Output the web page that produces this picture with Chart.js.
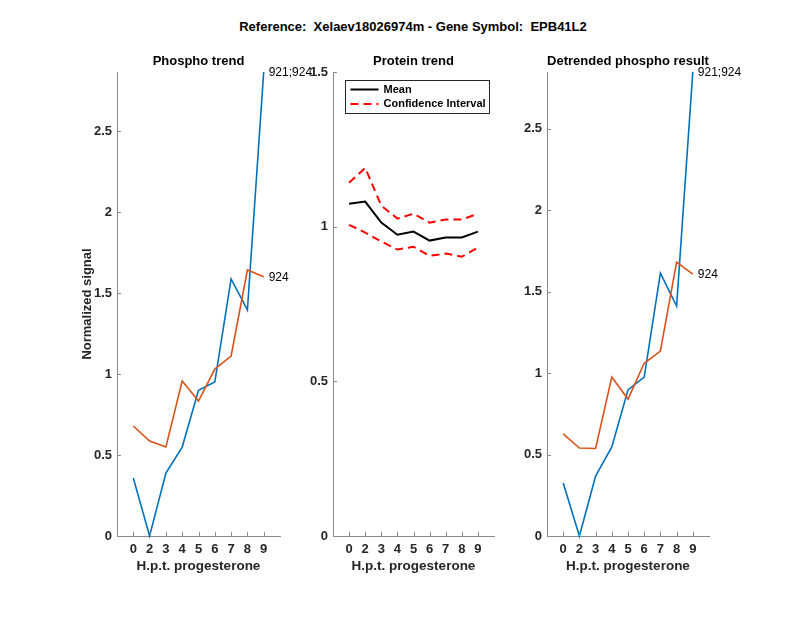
<!DOCTYPE html>
<html>
<head>
<meta charset="utf-8">
<script src="https://cdn.jsdelivr.net/npm/chart.js@4.4.1/dist/chart.umd.min.js"></script>
<style>
  body { margin:0; background:#fff; }
  #wrap { position:relative; width:800px; height:618px; overflow:hidden; }
  #wrap canvas { position:absolute; }
  #mainTitle { position:absolute; left:163px; top:19px; width:500px; text-align:center;
    font:bold 13px "Liberation Sans", Arial, sans-serif; line-height:16px; white-space:pre; color:#000; }
</style>
</head>
<body>
<div id="wrap">
  <div id="mainTitle">Reference:  Xelaev18026974m - Gene Symbol:  EPB41L2</div>
  <canvas id="c1" width="290" height="550" style="left:40px;top:40px"></canvas>
  <canvas id="c2" width="220" height="550" style="left:300px;top:40px"></canvas>
  <canvas id="c3" width="260" height="550" style="left:510px;top:40px"></canvas>
</div>
<script>
// time points (hours post progesterone)
const timeLabels = ['0','2','3','4','5','6','7','8','9'];
const seriesNames = ['921;924','924'];

// Phospho trend
const phosphoBlue   = [0.358, 0.0, 0.389, 0.549, 0.900, 0.950, 1.587, 1.395, 2.864];
const phosphoOrange = [0.679, 0.586, 0.549, 0.957, 0.833, 1.030, 1.111, 1.642, 1.600];

// Protein trend
const proteinMean  = [1.074, 1.081, 1.013, 0.974, 0.984, 0.955, 0.965, 0.965, 0.984];
const proteinUpper = [1.142, 1.190, 1.068, 1.026, 1.042, 1.013, 1.023, 1.023, 1.042];
const proteinLower = [1.006, 0.981, 0.952, 0.926, 0.935, 0.906, 0.913, 0.903, 0.932];

// Detrended phospho result
const detrendBlue   = [0.325, 0.0, 0.368, 0.546, 0.896, 0.975, 1.613, 1.411, 2.847];
const detrendOrange = [0.626, 0.540, 0.537, 0.975, 0.840, 1.060, 1.135, 1.680, 1.607];

const BLUE = '#0072BD', ORANGE = '#D95319';
const axisColor = '#8a8a8a';
const FONT = '"Liberation Sans", Arial, sans-serif';

function pts(arr){
  return arr.map((v,i) => ({x: i+1, y: v}));
}

const panelText = {
  id: 'panelText',
  afterDraw(chart, args, opts){
    const {ctx, chartArea: a, scales} = chart;
    ctx.save();
    // inward tick marks, MATLAB style
    ctx.strokeStyle = axisColor;
    ctx.lineWidth = 1;
    scales.x.ticks.forEach(t => {
      let px = Math.round(scales.x.getPixelForValue(t.value)) + 0.5;
      ctx.beginPath(); ctx.moveTo(px, a.bottom); ctx.lineTo(px, a.bottom - 4); ctx.stroke();
    });
    scales.y.ticks.forEach(t => {
      let py = Math.round(scales.y.getPixelForValue(t.value)) + 0.5;
      ctx.beginPath(); ctx.moveTo(a.left, py); ctx.lineTo(a.left + 4, py); ctx.stroke();
    });

    let cx = (a.left + a.right) / 2;
    ctx.textAlign = 'center';
    ctx.textBaseline = 'middle';
    ctx.fillStyle = '#000';
    ctx.font = 'bold 13px ' + FONT;
    ctx.fillText(opts.title, cx, a.top - 11);
    ctx.fillStyle = '#262626';
    ctx.font = 'bold 13.5px ' + FONT;
    ctx.fillText('H.p.t. progesterone', cx, a.bottom + 30);
    if (opts.yTitle){
      ctx.save();
      ctx.font = 'bold 13px ' + FONT;
      ctx.translate(a.left - 30, (a.top + a.bottom) / 2);
      ctx.rotate(-Math.PI / 2);
      ctx.fillText(opts.yTitle, 0, 0);
      ctx.restore();
    }

    if (opts.endLabels){
      ctx.textAlign = 'left';
      ctx.font = '12px ' + FONT;
      ctx.fillStyle = '#000';
      chart.data.datasets.forEach(ds => {
        let last = ds.data[ds.data.length - 1];
        ctx.fillText(ds.label, scales.x.getPixelForValue(last.x) + 5, scales.y.getPixelForValue(last.y) + 1);
      });
    }

    if (opts.legend){
      let bx = a.left + 12.5, by = 40.5, bw = 144, bh = 33;
      ctx.fillStyle = '#fff';
      ctx.fillRect(bx, by, bw, bh);
      ctx.strokeStyle = '#262626';
      ctx.lineWidth = 1;
      ctx.strokeRect(bx, by, bw, bh);
      let items = chart.data.datasets.slice(0, 2);
      items.forEach((ds, i) => {
        let y = by + 9 + i * 14.5;
        ctx.strokeStyle = ds.borderColor;
        ctx.lineWidth = 2;
        ctx.setLineDash(ds.borderDash || []);
        ctx.beginPath(); ctx.moveTo(bx + 5, y); ctx.lineTo(bx + 33, y); ctx.stroke();
        ctx.setLineDash([]);
        ctx.fillStyle = '#000';
        ctx.font = 'bold 11px ' + FONT;
        ctx.textAlign = 'left';
        ctx.fillText(ds.label, bx + 38, y);
      });
    }
    ctx.restore();
  }
};

function makeChart(canvas, datasets, yMax, yAxisWidth, padRight, text){
  return new Chart(canvas, {
    type: 'line',
    data: { datasets: datasets },
    options: {
      responsive: false,
      animation: false,
      layout: { padding: { top: 32, right: padRight, left: 0, bottom: 0 } },
      elements: { point: { radius: 0 }, line: { tension: 0 } },
      scales: {
        x: {
          type: 'linear', min: 0, max: 10,
          grid: { display: false, drawTicks: false },
          border: { color: axisColor, width: 1 },
          afterBuildTicks: s => { s.ticks = timeLabels.map((_, i) => ({ value: i + 1 })); },
          afterFit: s => { s.height = 54; },
          ticks: {
            padding: 6, maxRotation: 0, autoSkip: false,
            color: '#262626', font: { family: FONT, size: 13, weight: 'bold' },
            callback: v => timeLabels[v - 1]
          }
        },
        y: {
          min: 0, max: yMax,
          grid: { display: false, drawTicks: false },
          border: { color: axisColor, width: 1 },
          afterFit: s => { s.width = yAxisWidth; },
          ticks: {
            stepSize: 0.5, includeBounds: false, padding: 5,
            color: '#262626', font: { family: FONT, size: 13, weight: 'bold' },
            callback: v => String(v)
          }
        }
      },
      plugins: {
        legend: { display: false },
        tooltip: { enabled: false },
        panelText: text
      }
    },
    plugins: [panelText]
  });
}

function phosphoSets(blue, orange){
  return [
    { label: seriesNames[0], data: pts(blue), borderColor: BLUE, borderWidth: 1.6, order: 1, clip: false },
    { label: seriesNames[1], data: pts(orange), borderColor: ORANGE, borderWidth: 1.6, order: 0, clip: false }
  ];
}

makeChart(document.getElementById('c1'), phosphoSets(phosphoBlue, phosphoOrange),
  Math.max(...phosphoBlue, ...phosphoOrange), 77, 50,
  { title: 'Phospho trend', yTitle: 'Normalized signal', endLabels: true });

makeChart(document.getElementById('c2'), [
    { label: 'Mean', data: pts(proteinMean), borderColor: '#000', borderWidth: 2, clip: false },
    { label: 'Confidence Interval', data: pts(proteinUpper), borderColor: '#ff0000', borderWidth: 2, borderDash: [8, 5], clip: false },
    { label: 'Confidence Interval', data: pts(proteinLower), borderColor: '#ff0000', borderWidth: 2, borderDash: [8, 5], clip: false }
  ], 1.5, 33, 26,
  { title: 'Protein trend', legend: true });

makeChart(document.getElementById('c3'), phosphoSets(detrendBlue, detrendOrange),
  Math.max(...detrendBlue, ...detrendOrange), 37, 61,
  { title: 'Detrended phospho result', endLabels: true });
</script>
</body>
</html>
